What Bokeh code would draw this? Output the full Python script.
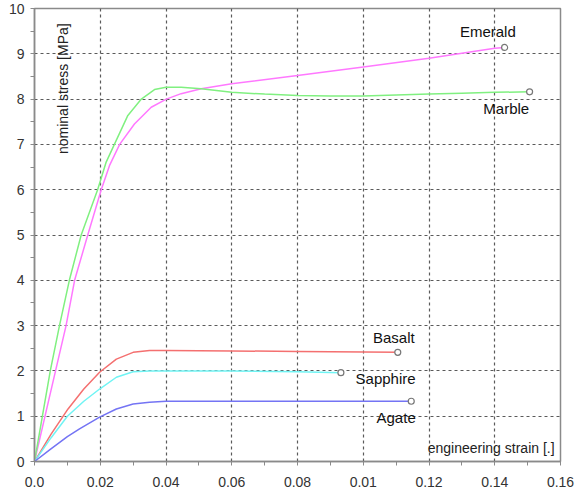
from bokeh.plotting import figure
from bokeh.models import Range1d, FixedTicker, Label, CustomJSTickFormatter
from bokeh.embed import file_html
from bokeh.resources import INLINE
import math

# ---- data ----
emerald_x = [0, 0.0032, 0.0064, 0.0096, 0.0122, 0.0162, 0.0203, 0.0228, 0.0259, 0.0304, 0.0355, 0.0401, 0.0446, 0.0507, 0.06, 0.08, 0.10, 0.12, 0.14, 0.143]
emerald_y = [0, 1, 2, 3, 4, 5, 6, 6.53, 7, 7.45, 7.82, 8.0, 8.12, 8.23, 8.34, 8.52, 8.71, 8.90, 9.12, 9.14]

marble_x = [0, 0.0024, 0.0048, 0.0076, 0.0106, 0.0142, 0.0192, 0.0218, 0.0243, 0.0284, 0.0325, 0.0365, 0.040, 0.0446, 0.0507, 0.06, 0.07, 0.08, 0.09, 0.10, 0.11, 0.12, 0.13, 0.14, 0.1506]
marble_y = [0, 1, 2, 3, 4, 5, 6, 6.61, 7, 7.64, 8.0, 8.21, 8.26, 8.26, 8.23, 8.15, 8.11, 8.08, 8.07, 8.07, 8.09, 8.11, 8.13, 8.15, 8.16]

basalt_x = [0, 0.005, 0.0102, 0.015, 0.0198, 0.0249, 0.030, 0.035, 0.04, 0.06, 0.08, 0.1105]
basalt_y = [0, 0.6, 1.16, 1.6, 1.97, 2.26, 2.41, 2.45, 2.45, 2.44, 2.43, 2.41]

sapphire_x = [0, 0.005, 0.01, 0.015, 0.0198, 0.0249, 0.030, 0.035, 0.06, 0.08, 0.0932]
sapphire_y = [0, 0.52, 1.0, 1.33, 1.60, 1.86, 1.98, 2.0, 2.0, 1.98, 1.96]

agate_x = [0, 0.005, 0.01, 0.0137, 0.0198, 0.0249, 0.030, 0.035, 0.04, 0.08, 0.1146]
agate_y = [0, 0.28, 0.55, 0.72, 0.98, 1.16, 1.27, 1.31, 1.33, 1.33, 1.33]

series_names = ["Emerald", "Marble", "Basalt", "Sapphire", "Agate"]
series_colors = ["#ff78ff", "#80f080", "#f47070", "#70f4f4", "#7474f4"]
label_x = [0.1379, 0.1435, 0.1093, 0.1068, 0.1100]
label_y = [9.49, 7.79, 2.74, 1.84, 0.97]

x_ticks = [0.0, 0.02, 0.04, 0.06, 0.08, 0.10, 0.12, 0.14, 0.16]
x_tick_labels = ["0.0", "0.02", "0.04", "0.06", "0.08", "0.01", "0.12", "0.14", "0.16"]
y_ticks = [0, 1, 2, 3, 4, 5, 6, 7, 8, 9, 10]

x_title = "engineering strain [.]"
y_title = "nominal stress [MPa]"

FONT = "Liberation Sans"

p = figure(frame_width=526, frame_height=453, output_backend="svg", toolbar_location=None,
           x_range=Range1d(0, 0.16), y_range=Range1d(0, 10),
           min_border_left=0, min_border_right=16, min_border_top=8, min_border_bottom=0,
           styles={"margin-left": "5px"})
p.background_fill_color = "white"
p.border_fill_color = "white"
p.outline_line_color = "#8a8a8a"
p.outline_line_width = 1.5

x_minor = [(a + b) / 2 for a, b in zip(x_ticks[:-1], x_ticks[1:])]
y_minor = [(a + b) / 2 for a, b in zip(y_ticks[:-1], y_ticks[1:])]
p.xaxis.ticker = FixedTicker(ticks=x_ticks, minor_ticks=x_minor)
p.yaxis.ticker = FixedTicker(ticks=y_ticks, minor_ticks=y_minor)
p.xaxis.formatter = CustomJSTickFormatter(args=dict(tvals=x_ticks, tlabels=x_tick_labels), code="""
let best = 0; let bd = 1e9;
for (let i = 0; i < tvals.length; i++) { const d = Math.abs(tvals[i] - tick); if (d < bd) { bd = d; best = i; } }
return tlabels[best];
""")

for ax in (p.xaxis[0], p.yaxis[0]):
    ax.axis_line_color = "#8a8a8a"
    ax.axis_line_width = 1.5
    ax.major_tick_line_color = "#8a8a8a"
    ax.minor_tick_line_color = "#8a8a8a"
    ax.major_tick_out = 4
    ax.major_tick_in = 0
    ax.minor_tick_out = 4
    ax.minor_tick_in = 0
    ax.major_label_text_font = FONT
    ax.major_label_text_font_size = "14px"
    ax.major_label_text_color = "#333333"
p.xaxis.major_label_standoff = 11
p.yaxis.major_label_standoff = 6

p.xgrid.ticker = FixedTicker(ticks=x_ticks[1:-1])
p.ygrid.ticker = FixedTicker(ticks=y_ticks[1:-1])
for g in (p.xgrid[0], p.ygrid[0]):
    g.grid_line_color = "#5a5a5a"
    g.grid_line_dash = "3 3"
    g.grid_line_width = 1.2

xs = [emerald_x, marble_x, basalt_x, sapphire_x, agate_x]
ys = [emerald_y, marble_y, basalt_y, sapphire_y, agate_y]
for sx, sy, c in zip(xs, ys, series_colors):
    p.line(sx, sy, line_color=c, line_width=1.5)

p.scatter([s[-1] for s in xs], [s[-1] for s in ys], marker="circle", size=6,
          fill_color="white", line_color="#777777", line_width=1.2)

for name, lx, ly in zip(series_names, label_x, label_y):
    p.add_layout(Label(x=lx, y=ly, text=name, text_align="center", text_baseline="middle",
                       text_font=FONT, text_font_size="15px", text_color="#111111"))

p.add_layout(Label(x=0.00882, y=8.23, text=y_title, angle=math.pi / 2, text_align="center",
                   text_baseline="middle", text_font=FONT, text_font_size="14px", text_color="#222222"))
p.add_layout(Label(x=0.1582, y=0.29, text=x_title, text_align="right", text_baseline="middle",
                   text_font=FONT, text_font_size="14px", text_color="#222222"))

open("out.html", "w").write(file_html(p, INLINE))
